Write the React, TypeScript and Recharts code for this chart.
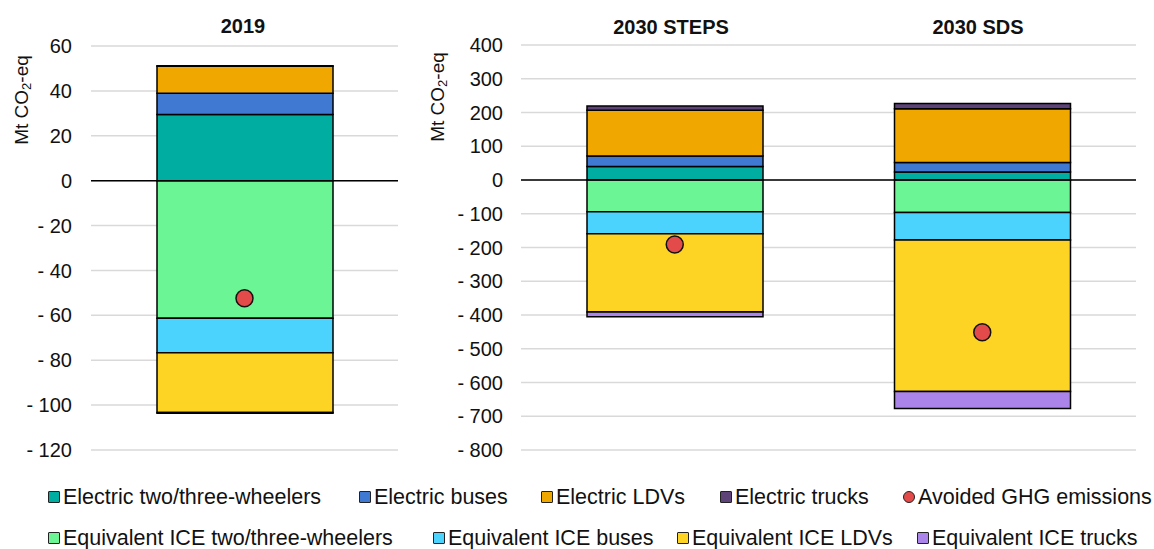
import { ComposedChart, Bar, Line, XAxis, YAxis, CartesianGrid, ReferenceLine } from 'recharts'

const scenarios = ['2019', '2030 STEPS', '2030 SDS']

// Mt CO2-eq
const elecTwoThree = [29.5, 40, 24]
const elecBuses = [9.5, 31, 28]
const elecLDVs = [12, 136, 159]
const elecTrucks = [0.2, 12, 16]
const iceTwoThree = [-61.3, -94, -96]
const iceBuses = [-15.4, -65, -82]
const iceLDVs = [-26.6, -232, -449]
const iceTrucks = [-0.3, -14, -50]
const avoided = [-52.4, -191, -451]

const ticks2019 = [-120, -100, -80, -60, -40, -20, 0, 20, 40, 60]
const ticks2030 = [-800, -700, -600, -500, -400, -300, -200, -100, 0, 100, 200, 300, 400]

const series = [
  { key: 'elecTwoThree', name: 'Electric two/three-wheelers', color: '#00ada1', values: elecTwoThree },
  { key: 'elecBuses', name: 'Electric buses', color: '#3f79d2', values: elecBuses },
  { key: 'elecLDVs', name: 'Electric LDVs', color: '#f0a800', values: elecLDVs },
  { key: 'elecTrucks', name: 'Electric trucks', color: '#5d4378', values: elecTrucks },
  { key: 'iceTwoThree', name: 'Equivalent ICE two/three-wheelers', color: '#6bf595', values: iceTwoThree },
  { key: 'iceBuses', name: 'Equivalent ICE buses', color: '#4bd3fe', values: iceBuses },
  { key: 'iceLDVs', name: 'Equivalent ICE LDVs', color: '#fdd324', values: iceLDVs },
  { key: 'iceTrucks', name: 'Equivalent ICE trucks', color: '#ab84ea', values: iceTrucks },
]

const rows = scenarios.map((name, i) => {
  const row: any = { name, avoided: avoided[i] }
  series.forEach(s => { row[s.key] = s.values[i] })
  return row
})

const FONT = '"Liberation Sans", Arial, sans-serif'
const fmt = (v: number) => (v < 0 ? `- ${-v}` : `${v}`)

const RedDot = (props: any) => {
  const { cx, cy } = props
  if (cx == null || cy == null) return null
  return <circle cx={cx} cy={cy} r={8.5} fill="#e34b4b" stroke="#111" strokeWidth={1.5} />
}

function Panel({ data, ticks, domain, yWidth, tickMargin, width, top, right }: any) {
  return (
    <ComposedChart
      width={width}
      height={470}
      data={data}
      stackOffset="sign"
      margin={{ top, right, bottom: 20, left: 0 }}
    >
      <CartesianGrid vertical={false} stroke="#d9d9d9" strokeWidth={1.5} />
      <XAxis dataKey="name" hide />
      <YAxis
        type="number"
        domain={domain}
        ticks={ticks}
        interval={0}
        width={yWidth}
        tickSize={0}
        tickMargin={tickMargin}
        axisLine={false}
        tickLine={false}
        tickFormatter={fmt}
        tick={{ fontSize: 20, fill: '#111', fontFamily: FONT }}
      />
      {series.map(s => (
        <Bar
          key={s.key}
          dataKey={s.key}
          stackId="a"
          fill={s.color}
          stroke="#000"
          strokeWidth={1.5}
          barSize={176}
          isAnimationActive={false}
        />
      ))}
      <ReferenceLine y={0} stroke="#000" strokeWidth={1.5} />
      <Line
        dataKey="avoided"
        stroke="none"
        dot={<RedDot />}
        activeDot={false}
        isAnimationActive={false}
      />
    </ComposedChart>
  )
}

const legendRow1 = [
  { label: 'Electric two/three-wheelers', color: '#00ada1', x: 48 },
  { label: 'Electric buses', color: '#3f79d2', x: 359 },
  { label: 'Electric LDVs', color: '#f0a800', x: 541 },
  { label: 'Electric trucks', color: '#5d4378', x: 720 },
  { label: 'Avoided GHG emissions', color: '#e34b4b', x: 903, round: true },
]
const legendRow2 = [
  { label: 'Equivalent ICE two/three-wheelers', color: '#6bf595', x: 48 },
  { label: 'Equivalent ICE buses', color: '#4bd3fe', x: 433 },
  { label: 'Equivalent ICE LDVs', color: '#fdd324', x: 677 },
  { label: 'Equivalent ICE trucks', color: '#ab84ea', x: 917 },
]

function LegendItem({ item, y }: any) {
  return (
    <div style={{ position: 'absolute', left: item.x, top: y - 13, height: 26, display: 'flex', alignItems: 'center', whiteSpace: 'nowrap' }}>
      <span
        style={{
          width: 10, height: 10, background: item.color, border: '1.5px solid #222',
          borderRadius: item.round ? '50%' : 1, marginRight: 3, display: 'inline-block',
        }}
      />
      <span style={{ fontSize: 21.5, color: '#111' }}>{item.label}</span>
    </div>
  )
}

export default function App() {
  return (
    <div style={{ position: 'absolute', left: 0, top: 0, width: 1154, height: 549, background: '#fff', fontFamily: FONT }}>
      <div style={{ position: 'absolute', left: 0, top: 0 }}>
        <Panel data={rows.slice(0, 1)} ticks={ticks2019} domain={[-120, 60]} yWidth={91} tickMargin={19} width={420} top={46} right={22} />
      </div>
      <div style={{ position: 'absolute', left: 420, top: 0 }}>
        <Panel data={rows.slice(1)} ticks={ticks2030} domain={[-800, 400]} yWidth={101} tickMargin={18} width={734} top={45} right={18} />
      </div>
      <svg width={1154} height={470} style={{ position: 'absolute', left: 0, top: 0, pointerEvents: 'none' }}>
        <g fontFamily={FONT} fontWeight="bold" fontSize={20} fill="#111" textAnchor="middle">
          <text x={243} y={26} dominantBaseline="central">{scenarios[0]}</text>
          <text x={671} y={27} dominantBaseline="central">{scenarios[1]}</text>
          <text x={978} y={27} dominantBaseline="central">{scenarios[2]}</text>
        </g>
        {[[21, 100], [437, 97]].map(([x, y], i) => (
          <text key={i} transform={`translate(${x},${y}) rotate(-90)`} textAnchor="middle" dominantBaseline="central" fontFamily={FONT} fontSize={19} fill="#111">
            Mt CO<tspan fontSize={13} dy={5}>2</tspan><tspan dy={-5}>-eq</tspan>
          </text>
        ))}
      </svg>
      {legendRow1.map(it => <LegendItem key={it.label} item={it} y={497} />)}
      {legendRow2.map(it => <LegendItem key={it.label} item={it} y={538} />)}
    </div>
  )
}
